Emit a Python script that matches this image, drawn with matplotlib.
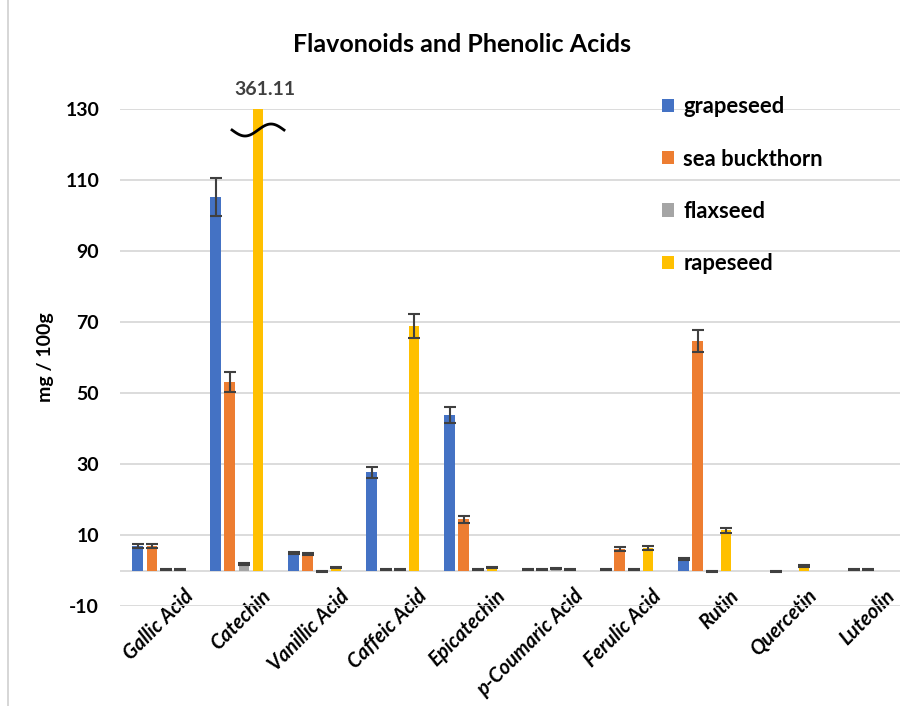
import numpy as np
import matplotlib
matplotlib.use("Agg")
import matplotlib.pyplot as plt
from matplotlib.transforms import ScaledTranslation
from matplotlib.lines import Line2D

categories = ["Gallic Acid", "Catechin", "Vanillic Acid", "Caffeic Acid", "Epicatechin",
              "p-Coumaric Acid", "Ferulic Acid", "Rutin", "Quercetin", "Luteolin"]
series = ["grapeseed", "sea buckthorn", "flaxseed", "rapeseed"]
grapeseed = [6.9, 105.2, 4.9, 27.7, 43.8, 0.2, 0.2, 3.2, 0.0, 0.0]
grapeseed_err = [0.5, 5.3, 0.3, 1.5, 2.3, 0.1, 0.1, 0.3, 0.0, 0.0]
sea_buckthorn = [6.9, 53.1, 4.6, 0.2, 14.5, 0.2, 6.1, 64.6, -0.3, 0.3]
sea_buckthorn_err = [0.5, 2.8, 0.3, 0.1, 1.0, 0.1, 0.5, 3.1, 0.1, 0.1]
flaxseed = [0.3, 1.8, -0.3, 0.3, 0.2, 0.5, 0.2, -0.3, 0.0, 0.3]
flaxseed_err = [0.1, 0.3, 0.1, 0.1, 0.1, 0.1, 0.1, 0.1, 0.0, 0.1]
rapeseed = [0.3, 361.11, 0.8, 68.9, 0.8, 0.2, 6.3, 11.4, 1.2, 0.0]
rapeseed_err = [0.1, 0.0, 0.2, 3.4, 0.2, 0.1, 0.6, 0.7, 0.3, 0.0]
yticks = [130, 110, 90, 70, 50, 30, 10, -10]

values = [grapeseed, sea_buckthorn, flaxseed, rapeseed]
errors = [grapeseed_err, sea_buckthorn_err, flaxseed_err, rapeseed_err]
colors = ["#4472C4", "#ED7D31", "#A5A5A5", "#FFC000"]

plt.rcParams['font.family'] = ['Lato', 'DejaVu Sans']
W = 'bold'

fig = plt.figure(figsize=(9.09, 7.06), dpi=100)
ax = fig.add_axes([0.132, 0.1416, 0.858, 0.704])

x = np.arange(len(categories))
step = 0.18
width = 0.14
ymin, ymax = -10, 130

for i, (name, vals, errs, col) in enumerate(zip(series, values, errors, colors)):
    pos = x + (i - 1.5) * step
    shown = np.clip(vals, ymin, ymax)
    ax.bar(pos, shown, width=width, color=col, label=name, zorder=3)
    errs_arr = np.array(errs)
    mask = errs_arr > 0
    ax.errorbar(pos[mask], np.array(vals)[mask], yerr=errs_arr[mask], fmt='none',
                ecolor='#404040', elinewidth=1.5, capsize=4, capthick=1.5, zorder=4)
    for j, v in enumerate(vals):
        if v > ymax:
            ax.annotate(f"{v:.2f}", xy=(pos[j], ymax), xytext=(5, 8),
                        textcoords='offset points', ha='center', va='bottom',
                        fontsize=14, fontweight=W, color='#404040',
                        annotation_clip=False)
            px_x = (len(categories)) / (0.858 * 909)
            px_y = (ymax - ymin) / (0.704 * 706)
            t = np.linspace(0, 1, 60)
            wx = pos[j] + (-26 + 52 * t) * px_x
            wy = (ymax - 21 * px_y) - 6 * px_y * np.sin(2 * np.pi * t)
            ax.plot(wx, wy, color='black', lw=2, zorder=6, clip_on=False)

ax.set_ylim(ymin, ymax)
ax.set_xlim(-0.5, len(categories) - 0.5)
ax.set_yticks(yticks)
ax.set_yticklabels([str(v) for v in yticks], fontsize=14, fontweight=W)
ax.yaxis.grid(True, color='#d9d9d9', lw=1.3, zorder=0)
ax.set_axisbelow(True)
ax.axhline(0, color='#d9d9d9', lw=1.3, zorder=1)
for s in ax.spines.values():
    s.set_visible(False)
ax.tick_params(axis='y', length=0, pad=15)
ax.tick_params(axis='x', length=0, pad=0)

ax.set_xticks(x)
ax.set_xticklabels(categories, rotation=45, ha='right', va='center',
                   rotation_mode='anchor', fontsize=14.5, fontweight=W, style='italic')
for lab in ax.get_xticklabels():
    lab.set_transform(lab.get_transform() + ScaledTranslation(0.31, 0.13, fig.dpi_scale_trans))

ax.set_ylabel("mg / 100g", fontsize=14, fontweight=W, labelpad=8)

fig.text(0.508, 0.937, "Flavonoids and Phenolic Acids", ha='center', va='center',
         fontsize=18, fontweight=W, color='black')

leg = ax.legend(loc='upper left', bbox_to_anchor=(0.67, 1.065), frameon=False,
                prop={'size': 15.8, 'weight': W}, handlelength=0.55, handleheight=0.55,
                handletextpad=0.4, labelspacing=1.42)

fig.add_artist(Line2D([8 / 909, 8 / 909], [0, 1], color='#d0d0d0', lw=1.2,
                      transform=fig.transFigure))

fig.savefig("out.png", dpi=100)
